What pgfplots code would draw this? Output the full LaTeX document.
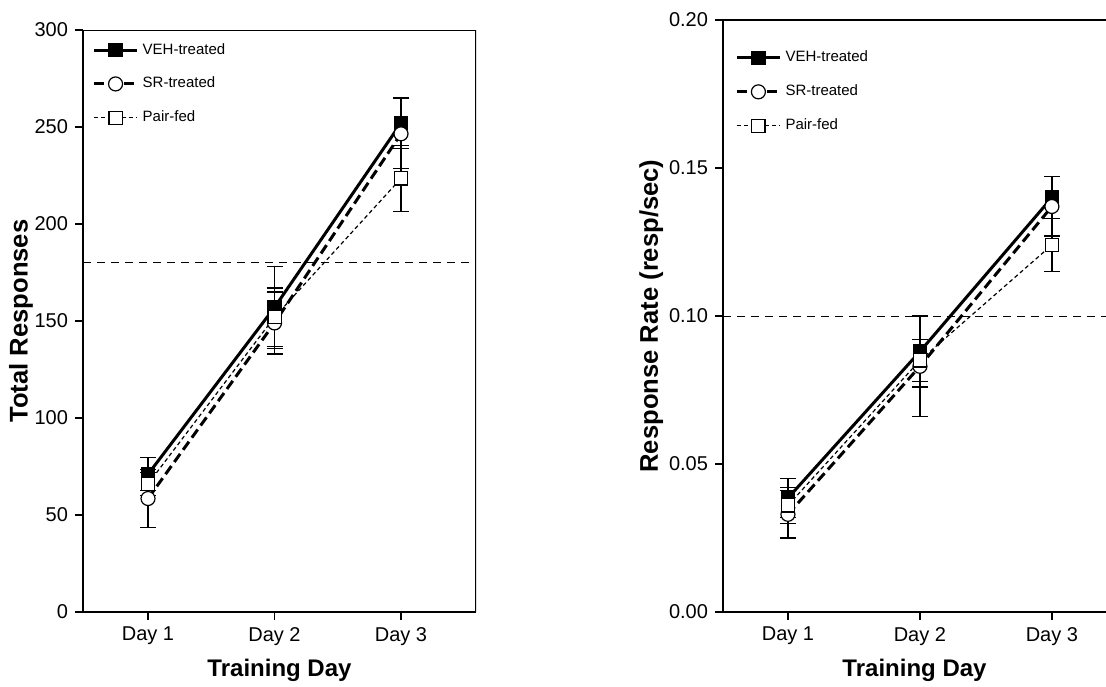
\documentclass[border=0pt]{standalone}
\usepackage{fontspec}
\setmainfont{Liberation Sans}
\usepackage{pgfplots}
\pgfplotsset{compat=1.18}

\pgfplotsset{
  trial/.style={
    scale only axis,
    xtick={1,2,3},
    xticklabels={Day 1,Day 2,Day 3},
    tick align=outside,
    major tick length=4pt,
    tick style={black, line width=0.8pt},
    axis line style={line width=1pt},
    xlabel={Training Day},
    xlabel style={font=\fontsize{12}{14}\selectfont\bfseries},
    ylabel style={font=\fontsize{12.8}{14}\selectfont\bfseries},
    tick label style={font=\fontsize{10}{12}\selectfont},
    /pgf/number format/assume math mode=true,
    legend style={draw=none, fill=none, font=\fontsize{7.5}{9}\selectfont,
      anchor=north west, row sep=6pt, inner sep=0pt},
    legend cell align=left,
    legend image code/.code={\draw[mark repeat=2,mark phase=2]
      plot coordinates {(0cm,0cm)(0.38cm,0cm)(0.76cm,0cm)};},
  },
  veh/.style={black, line width=1.5pt, mark=square*, mark size=3.3pt,
    mark options={solid, line width=0.6pt, fill=black}},
  sr/.style={black, line width=1.5pt, dash pattern=on 5pt off 2.5pt, mark=*, mark size=3.5pt,
    mark options={solid, line width=0.6pt, fill=white}},
  pf/.style={black, line width=0.6pt, dash pattern=on 2pt off 1.5pt, mark=square*, mark size=3.3pt,
    mark options={solid, line width=0.6pt, fill=white}},
  eb/.style={error bars/.cd, y dir=both, y explicit,
    error bar style={solid, black, line width=0.6pt},
    error mark options={rotate=90, mark size=4pt, solid, line width=0.6pt, black}},
}

\begin{document}
\begin{tikzpicture}
\path[use as bounding box] (0,0) rectangle (553pt,343pt);

% left panel: total responses
\begin{axis}[trial,
  at={(41.5pt,37pt)}, anchor=south west,
  width=196.5pt, height=291pt,
  xmin=0.486, xmax=3.593,
  ymin=0, ymax=300,
  ytick={0,50,...,300},
  ylabel={Total Responses},
  ylabel style={yshift=-6pt},
  axis x line*=bottom, axis y line*=left,
  legend style={at={(rel axis cs:0.023,0.985)}},
]
\addplot[black, line width=0.5pt, dash pattern=on 4pt off 3pt, forget plot]
  coordinates {(0.486,180) (3.593,180)};
\addplot[veh, eb] coordinates {
  (1,71) +- (0,8.5)
  (2,157) +- (0,21)
  (3,252) +- (0,13)
};
\addplot[sr, eb] coordinates {
  (1,58.5) +- (0,15)
  (2,149) +- (0,16)
  (3,246.5) +- (0,18)
};
\addplot[pf, eb] coordinates {
  (1,66) +- (0,6)
  (2,152) +- (0,15)
  (3,223.5) +- (0,17)
};
\legend{VEH-treated, SR-treated, Pair-fed}
\draw[black, line width=1pt] (rel axis cs:0,1) -- (rel axis cs:1,1) -- (rel axis cs:1,0);
\end{axis}

% right panel: response rate
\begin{axis}[trial,
  at={(361.5pt,37pt)}, anchor=south west,
  width=191.5pt, height=296pt,
  xmin=0.508, xmax=3.41,
  ymin=0, ymax=0.2,
  ytick={0,0.05,...,0.2},
  yticklabel style={/pgf/number format/.cd, fixed, fixed zerofill, precision=2},
  ylabel={Response Rate (resp/sec)},
  ylabel style={yshift=-4pt},
  axis x line*=bottom, axis y line*=left,
  legend style={at={(rel axis cs:0.031,0.955)}},
]
\addplot[black, line width=0.5pt, dash pattern=on 4pt off 3pt, forget plot]
  coordinates {(0.508,0.1) (3.41,0.1)};
\addplot[veh, eb] coordinates {
  (1,0.0385) +- (0,0.0065)
  (2,0.088) +- (0,0.012)
  (3,0.140) +- (0,0.007)
};
\addplot[sr, eb] coordinates {
  (1,0.033) +- (0,0.008)
  (2,0.083) +- (0,0.017)
  (3,0.137) +- (0,0.010)
};
\addplot[pf, eb] coordinates {
  (1,0.036) +- (0,0.006)
  (2,0.085) +- (0,0.007)
  (3,0.124) +- (0,0.009)
};
\legend{VEH-treated, SR-treated, Pair-fed}
\draw[black, line width=1pt] (rel axis cs:0,1) -- (rel axis cs:1,1);
\end{axis}
\end{tikzpicture}
\end{document}
